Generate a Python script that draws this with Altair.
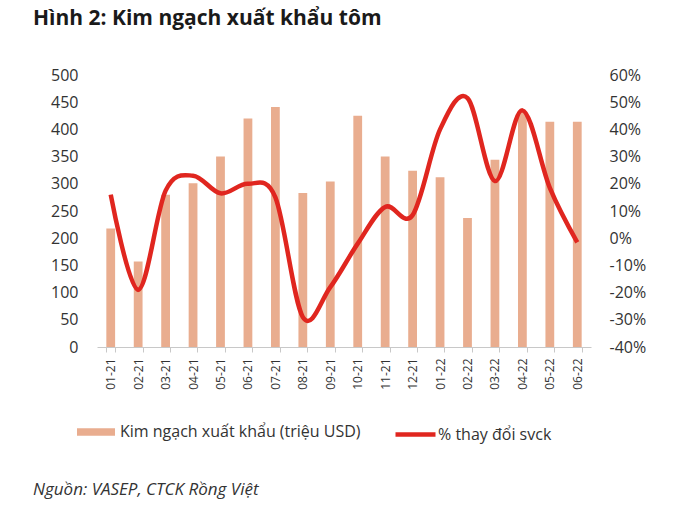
import altair as alt
import pandas as pd

# Monthly shrimp export turnover (million USD) and year-on-year change (%)
months = ["01-21", "02-21", "03-21", "04-21", "05-21", "06-21", "07-21", "08-21", "09-21",
          "10-21", "11-21", "12-21", "01-22", "02-22", "03-22", "04-22", "05-22", "06-22"]
export_value = [218, 157, 280, 301, 350, 420, 441, 283, 304,
                425, 350, 324, 312, 237, 344, 432, 414, 414]
yoy_change = [16, -19, 17.5, 23, 16.5, 20, 15, -29, -18,
              -2, 11.5, 8.5, 40, 51.5, 21, 47, 18.5, -1.5]

left_ticks = list(range(0, 501, 50))
right_ticks = [v / 100 for v in range(-40, 61, 10)]

TITLE = "Hình 2: Kim ngạch xuất khẩu tôm"
BAR_LABEL = "Kim ngạch xuất khẩu (triệu USD)"
LINE_LABEL = "% thay đổi svck"
SOURCE = "Nguồn: VASEP, CTCK Rồng Việt"

FONT = "Open Sans"
BAR_COLOR = "#e9ad8f"
LINE_COLOR = "#e0261f"
TEXT_COLOR = "#333333"

df = pd.DataFrame({
    "month": months,
    "export": export_value,
    "yoy": [v / 100 for v in yoy_change],
    "bar_series": BAR_LABEL,
    "line_series": LINE_LABEL,
})

x_enc = alt.X(
    "month:N", sort=months, title=None,
    scale=alt.Scale(paddingInner=0.68, paddingOuter=0.34),
    axis=alt.Axis(labelAngle=-90, labelFontSize=12, labelColor=TEXT_COLOR, labelFont=FONT,
                  labelPadding=6, domainColor="#c8c8c8", tickColor="#c8c8c8",
                  tickSize=5, tickBand="extent"),
)

bars = alt.Chart(df).mark_bar().encode(
    x=x_enc,
    y=alt.Y("export:Q", title=None, scale=alt.Scale(domain=[0, 500], nice=False),
            axis=alt.Axis(values=left_ticks, labelFontSize=16, labelColor=TEXT_COLOR,
                          labelFont=FONT, domain=False, ticks=False, grid=False,
                          labelPadding=19)),
    color=alt.Color("bar_series:N", title=None,
                    scale=alt.Scale(range=[BAR_COLOR]),
                    legend=alt.Legend(orient="none", legendX=-20, legendY=338,
                                      symbolType="M-1,-0.2H1V0.2H-1Z", symbolSize=1444,
                                      symbolStrokeWidth=0, labelFontSize=16, labelLimit=400,
                                      labelFont=FONT, labelColor=TEXT_COLOR, labelOffset=5)),
)

line = alt.Chart(df).mark_line(interpolate="cardinal", strokeWidth=4.5).encode(
    x=x_enc,
    y=alt.Y("yoy:Q", title=None, scale=alt.Scale(domain=[-0.4, 0.6], nice=False),
            axis=alt.Axis(orient="right", values=right_ticks, format=".0%",
                          labelExpr="replace(datum.label, '\u2212', '-')",
                          labelFontSize=16, labelColor=TEXT_COLOR, labelFont=FONT,
                          domain=False, ticks=False, grid=False, labelPadding=18)),
    color=alt.Color("line_series:N", title=None,
                    scale=alt.Scale(range=[LINE_COLOR]),
                    legend=alt.Legend(orient="none", legendX=296, legendY=337,
                                      symbolType="stroke", symbolSize=1600,
                                      symbolStrokeWidth=4.5, labelFontSize=16, labelLimit=400,
                                      labelFont=FONT, labelColor=TEXT_COLOR, labelOffset=0)),
)

source = alt.Chart(pd.DataFrame({"text": [SOURCE]})).mark_text(
    align="left", baseline="middle", font=FONT, fontSize=17, fontStyle="italic",
    color=TEXT_COLOR,
).encode(x=alt.value(-64), y=alt.value(415), text="text:N")

chart = alt.layer(bars, line, source).resolve_scale(
    y="independent", color="independent"
).properties(
    width=494, height=272,
    autosize=alt.AutoSizeParams(type="none"),
    padding={"left": 97, "top": 75, "right": 89, "bottom": 185},
    background="white",
    title=alt.TitleParams(TITLE, anchor="start", font=FONT, fontSize=21, fontWeight="bold",
                          color="#1a1a1a", dx=0, offset=38),
).configure_view(stroke=None)

chart.save("out.html", embed_options={"renderer": "svg", "actions": False})
